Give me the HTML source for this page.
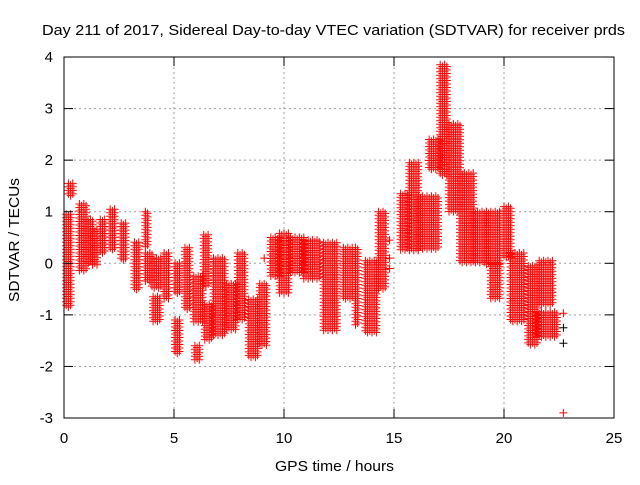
<!DOCTYPE html>
<html><head><meta charset="utf-8"><style>
body{margin:0;background:#fff;}
svg text{font-family:"Liberation Sans",Arial,sans-serif;font-size:15px;fill:#000;}
</style></head><body>
<svg id="chart" width="640" height="480" viewBox="0 0 640 480" xmlns="http://www.w3.org/2000/svg">
<rect width="640" height="480" fill="#fff"/>
<text x="42" y="35" textLength="583" lengthAdjust="spacingAndGlyphs">Day 211 of 2017, Sidereal Day-to-day VTEC variation (SDTVAR) for receiver prds</text>
<text transform="translate(19,240) rotate(-90)" text-anchor="middle" textLength="124" lengthAdjust="spacingAndGlyphs">SDTVAR / TECUs</text>
<text x="275" y="471" textLength="119" lengthAdjust="spacingAndGlyphs">GPS time / hours</text>
<g id="grid"></g>
<g id="marks"></g>
<rect x="64" y="57" width="550" height="361" fill="none" stroke="#000" stroke-width="1"/>
<g id="ticks"></g>
</svg>
<script>
const xTicks=[0,5,10,15,20,25];
const yTicks=[-3,-2,-1,0,1,2,3,4];
const segStart=[0.1,0.2,0.7,1.0,1.3,1.65,2.1,2.6,3.2,3.7,3.7,4.0,4.05,4.55,5.05,5.05,5.5,5.9,5.95,6.35,6.4,6.8,7.4,7.9,8.4,8.9,9.4,9.8,10.3,10.9,11.8,12.7,13.25,13.7,14.3,15.3,15.7,16.1,16.6,17.1,17.5,18.0,18.6,19.2,19.4,20.0,20.3,21.1,21.5,21.6];
const segEnd=[0.35,0.4,1.0,1.3,1.5,1.9,2.35,2.85,3.45,3.85,4.0,4.4,4.35,4.8,5.25,5.3,5.75,6.3,6.15,6.6,6.7,7.3,7.8,8.2,8.8,9.2,9.8,10.2,10.9,11.6,12.4,13.1,13.4,14.2,14.6,15.6,16.1,17.0,17.1,17.4,18.0,18.6,19.2,19.8,19.8,20.3,20.9,21.5,22.4,22.2];
const segLo=[-0.85,1.28,-0.15,0.0,-0.05,0.2,0.26,0.06,-0.52,0.32,-0.35,-0.5,-1.15,-0.7,-0.6,-1.75,-0.9,-1.15,-1.9,-0.45,-1.5,-1.4,-1.3,-1.1,-1.85,-1.6,-0.26,-0.58,-0.2,-0.3,-1.3,-0.7,-1.2,-1.36,-0.5,0.25,0.25,0.25,1.8,1.7,1.0,0.0,0.0,-0.05,-0.7,0.1,-1.15,-1.6,-1.45,-0.8];
const segHi=[0.95,1.55,1.15,0.85,0.65,0.85,1.05,0.78,0.41,1.0,0.2,0.1,-0.65,0.2,0.0,-1.1,0.3,-0.25,-1.6,0.55,-0.8,0.1,-0.4,0.2,-0.7,-0.4,0.5,0.58,0.5,0.45,0.4,0.3,0.3,0.05,1.0,1.35,1.95,1.3,2.4,3.85,2.7,1.75,1.0,1.0,0.0,1.1,0.2,-0.05,-0.95,0.05];
const ptT=[22.7,22.7,14.8,14.8,14.8,9.1];
const ptV=[-0.97,-2.9,0.45,0.1,-0.1,0.1];
const blkT=[22.7,22.7];
const blkV=[-1.25,-1.55];
const X=t=>64+t*22, Y=v=>263.3-v*51.57;
const NS='http://www.w3.org/2000/svg';
function mk(tag,attrs,parent){const e=document.createElementNS(NS,tag);for(const k in attrs)e.setAttribute(k,attrs[k]);parent.appendChild(e);return e;}
const grid=document.getElementById('grid'),ticks=document.getElementById('ticks'),marks=document.getElementById('marks');
xTicks.forEach(t=>{
 if(t>0&&t<25){const g=mk('line',{x1:X(t),x2:X(t),y1:57,y2:418,stroke:'#a0a0a0','stroke-dasharray':'2,3'},grid);
 
 }
 mk('line',{x1:X(t),x2:X(t),y1:418,y2:409,stroke:'#000'},ticks);
 mk('line',{x1:X(t),x2:X(t),y1:57,y2:66,stroke:'#000'},ticks);
 const l=mk('text',{x:X(t),y:443,'text-anchor':'middle'},ticks);l.textContent=t;
 
 
});
yTicks.forEach(v=>{
 if(v>-3&&v<4){const g=mk('line',{x1:64,x2:614,y1:Y(v),y2:Y(v),stroke:'#a0a0a0','stroke-dasharray':'2,3'},grid);
 
 }
 mk('line',{x1:64,x2:73,y1:Y(v),y2:Y(v),stroke:'#000'},ticks);
 mk('line',{x1:614,x2:605,y1:Y(v),y2:Y(v),stroke:'#000'},ticks);
 const l=mk('text',{x:53,y:Y(v)+5,'text-anchor':'end'},ticks);l.textContent=v;
 
 
});
function plus(x,y){return `M${(x-4).toFixed(1)} ${y.toFixed(1)}h8M${x.toFixed(1)} ${(y-4).toFixed(1)}v8`;}
for(let i=0;i<segStart.length;i++){
 let d='';
 const x0=X(segStart[i]),x1=X(segEnd[i]),y0=Y(segHi[i]),y1=Y(segLo[i]);
 let col=0;
 for(let x=x0;x<=x1+0.01;x+=2.2,col++){
  for(let y=y0+(col%2)*1.7;y<=y1+0.01;y+=3.5){d+=plus(x,y);}
 }
 const p=mk('path',{d:d,stroke:'#f00','stroke-width':1,fill:'none'},marks);
 
 
}
for(let i=0;i<blkT.length;i++){
 const p=mk('path',{d:plus(X(blkT[i]),Y(blkV[i])),stroke:'#000','stroke-width':1},marks);
 
 
}
for(let i=0;i<ptT.length;i++){
 const p=mk('path',{d:plus(X(ptT[i]),Y(ptV[i])),stroke:'#f00','stroke-width':1},marks);
 
 
}
</script>
</body></html>
